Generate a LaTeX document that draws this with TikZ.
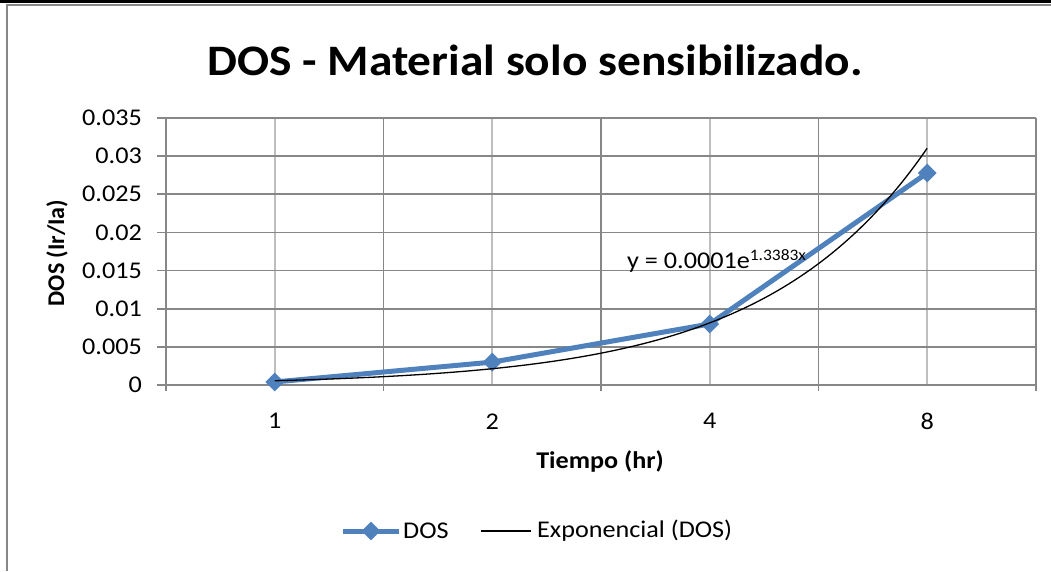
\documentclass[tikz,border=0pt]{standalone}
\usepackage{fontspec}
\setmainfont{Carlito}
\usetikzlibrary{shapes.geometric}
\definecolor{dosblue}{HTML}{4F81BD}
\definecolor{gridmaj}{HTML}{878787}
\definecolor{gridmin}{HTML}{BEBEBE}
\tikzset{
  majgrid/.style={gridmaj,line width=1.6pt},
  mingrid/.style={gridmin,line width=1.6pt},
  ticklab/.style={font=\fontsize{24}{26}\selectfont,inner sep=0pt,xscale=1.09},
  axtitle/.style={font=\fontsize{24}{26}\selectfont\bfseries,inner sep=0pt},
  dosmark/.style={diamond,fill=dosblue,inner sep=0pt,minimum width=19pt,minimum height=19pt},
  dosline/.style={dosblue,line width=5pt},
  fitline/.style={black,line width=1.3pt}
}
\begin{document}
\begin{tikzpicture}[x=1pt,y=1pt]
\useasboundingbox (0,0) rectangle (1051,571);
% frame
\fill[black] (0,568) rectangle (1051,571);
\draw[gridmaj,line width=2pt] (7,0) -- (7,566) -- (1051,566);
% title
\node[font=\fontsize{43.5}{46}\selectfont\bfseries,inner sep=0pt,xscale=1.09] (title) at (535,511) {DOS - Material solo sensibilizado.};
% plot area
\begin{scope}[shift={(166,186)},x=217.5pt,y=38.14pt]
  \foreach \k in {0.5,1.5,2.5,3.5}
    \draw[mingrid] (\k,0) -- (\k,7);
  \foreach \k in {1,2,3}
    \draw[majgrid] (\k,-0.16) -- (\k,7);
  \foreach \j in {1,...,7}
    \draw[majgrid] (-0.04,\j) -- (4,\j);
  \draw[majgrid] (4,-0.16) -- (4,7);
  \draw[majgrid] (0,-0.16) -- (0,7);
  \draw[majgrid] (-0.04,0) -- (4,0);
  % y tick labels
  \foreach \v/\t in {0/0,1/0.005,2/0.01,3/0.015,4/0.02,5/0.025,6/0.03,7/0.035}
    \node[ticklab,anchor=east] at (-0.11,\v) {\t};
  % x tick labels
  \foreach \k/\t in {0.5/1,1.5/2,2.5/4,3.5/8}
    \node[ticklab] at (\k,-0.95) {\t};
  % data
  \coordinate (p1) at (0.5,0.08);
  \coordinate (p2) at (1.5,0.60);
  \coordinate (p3) at (2.5,1.60);
  \coordinate (p4) at (3.5,5.56);
  \draw[dosline,line join=round] (p1) -- (p2) -- (p3) -- (p4);
  \foreach \p in {p1,p2,p3,p4}
    \node[dosmark] at (\p) {};
  \draw[fitline] plot[domain=0.5:3.5,samples=80,smooth] (\x,{0.0294*exp(1.3383*(\x+0.5))});
\end{scope}
% trendline label
\node[ticklab,anchor=base west] (eqn) at (627,303) {y = 0.0001e\raisebox{8pt}{\fontsize{16}{17}\selectfont 1.3383x}};
% axis titles
\node[axtitle,rotate=90] (ytitle) at (57,318) {DOS (Ir/Ia)};
\node[axtitle,xscale=1.09] (xtitle) at (600,110) {Tiempo (hr)};
% legend
\coordinate (la) at (343,40);
\coordinate (lb) at (399,40);
\draw[dosline] (la) -- (lb);
\node[dosmark] (lm) at (371,40) {};
\node[ticklab,anchor=west] (ldos) at (403,40) {DOS};
\coordinate (lc) at (481,40);
\coordinate (ld) at (531,40);
\draw[fitline] (lc) -- (ld);
\node[ticklab,anchor=west] (lexp) at (537,40) {Exponencial (DOS)};
\end{tikzpicture}
\end{document}
